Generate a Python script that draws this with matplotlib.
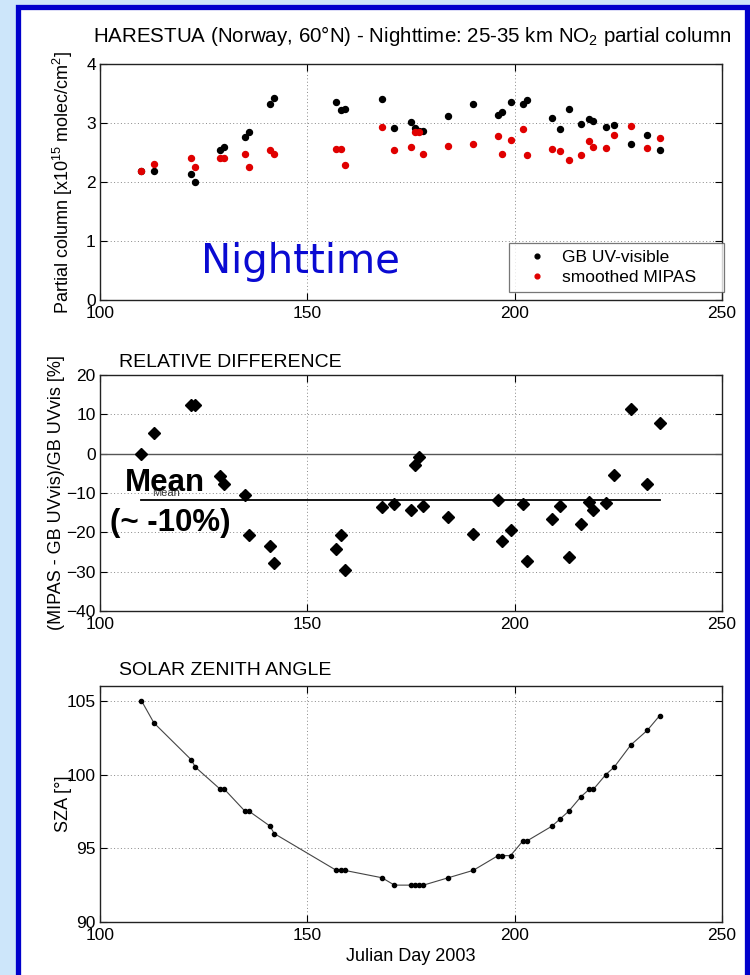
import numpy as np
import matplotlib.pyplot as plt
from matplotlib.patches import Rectangle

plt.rcParams['font.family'] = ['Liberation Sans', 'DejaVu Sans']
plt.rcParams['mathtext.fontset'] = 'custom'
plt.rcParams['mathtext.rm'] = 'Liberation Sans'
plt.rcParams['mathtext.it'] = 'Liberation Sans:italic'

# Julian day of each nighttime measurement (2003)
days = [110, 113, 122, 123, 129, 130, 135, 136, 141, 142, 157, 158, 159,
        168, 171, 175, 176, 177, 178, 184, 190, 196, 197, 199, 202, 203,
        209, 211, 213, 216, 218, 219, 222, 224, 228, 232, 235]

# 25-35 km NO2 partial column [1e15 molec/cm2]
gb_uvvis = [2.18, 2.18, 2.13, 2.00, 2.55, 2.60, 2.77, 2.85, 3.32, 3.42, 3.36, 3.22, 3.23,
            3.41, 2.92, 3.01, 2.92, 2.86, 2.86, 3.12, 3.32, 3.14, 3.18, 3.36, 3.32, 3.39,
            3.08, 2.90, 3.23, 2.98, 3.06, 3.03, 2.94, 2.96, 2.64, 2.79, 2.54]
mipas = [2.18, 2.30, 2.41, 2.25, 2.41, 2.40, 2.47, 2.25, 2.55, 2.47, 2.56, 2.56, 2.29,
         2.94, 2.54, 2.59, 2.84, 2.84, 2.47, 2.61, 2.64, 2.78, 2.47, 2.71, 2.90, 2.46,
         2.56, 2.52, 2.38, 2.45, 2.69, 2.59, 2.57, 2.80, 2.95, 2.58, 2.75]

# (MIPAS - GB UVvis)/GB UVvis [%]
rel_diff = [0.0, 5.3, 12.5, 12.5, -5.6, -7.7, -10.6, -20.8, -23.6, -27.8, -24.2, -20.8, -29.5,
            -13.6, -12.9, -14.2, -2.8, -0.8, -13.4, -16.2, -20.4, -11.7, -22.3, -19.4, -12.8, -27.3,
            -16.6, -13.4, -26.3, -17.9, -12.3, -14.3, -12.6, -5.5, 11.4, -7.6, 7.9]

# solar zenith angle [deg]
sza = [105.0, 103.5, 101.0, 100.5, 99.0, 99.0, 97.5, 97.5, 96.5, 96.0, 93.5, 93.5, 93.5,
       93.0, 92.5, 92.5, 92.5, 92.5, 92.5, 93.0, 93.5, 94.5, 94.5, 94.5, 95.5, 95.5,
       96.5, 97.0, 97.5, 98.5, 99.0, 99.0, 100.0, 100.5, 102.0, 103.0, 104.0]

mean_diff = np.mean(rel_diff)

W, H = 750, 975
fig = plt.figure(figsize=(W / 100, H / 100), dpi=100, facecolor='#cde6fa')

# white sheet with blue frame
fig.patches.append(Rectangle((17.5 / W, -0.05), 729 / W, 1 - 6.5 / H + 0.05,
                             transform=fig.transFigure, facecolor='white',
                             edgecolor='#0000cc', linewidth=3.8, zorder=-1))


def panel(top_px):
    ax = fig.add_axes([100 / W, 1 - (top_px + 236) / H, 622 / W, 236 / H])
    ax.set_xlim(100, 250)
    ax.set_xticks([100, 150, 200, 250])
    ax.grid(True, linestyle=(0, (1, 2.5)), color='#888888', linewidth=0.7)
    ax.tick_params(direction='in', top=True, right=True, length=5,
                   labelsize=12.5, width=0.8)
    ax.tick_params(axis='x', pad=4)
    ax.tick_params(axis='y', pad=3)
    for s in ax.spines.values():
        s.set_linewidth(1.0)
        s.set_color('#222222')
    return ax


# partial columns
ax1 = panel(64)
ax1.plot(days, gb_uvvis, 'o', color='black', markersize=4.3, label='GB UV-visible')
ax1.plot(days, mipas, 'o', color='#e00000', markersize=4.3, label='smoothed MIPAS')
ax1.set_ylim(0, 4)
ax1.set_yticks([0, 1, 2, 3, 4])
ax1.set_ylabel('Partial column [x10$^{15}$ molec/cm$^2$]', fontsize=13)
ax1.yaxis.set_label_coords(-0.04, 0.5)
ax1.text(124.3, 0.45, 'Nighttime', color='#0a0ad2', fontsize=29,
         family='DejaVu Sans', ha='left', va='baseline')
leg = ax1.legend(loc='lower left', bbox_to_anchor=(0.6576, 0.034, 0.3457, 0.2),
                 mode='expand', borderaxespad=0,
                 fontsize=12.5, fancybox=False, edgecolor='#555555',
                 handletextpad=0.25, borderpad=0.4, labelspacing=0.3,
                 handlelength=2.4, markerscale=0.8)
leg.get_frame().set_linewidth(0.9)
fig.text(412 / W, 1 - 36 / H,
         'HARESTUA (Norway, 60°N) - Nighttime: 25-35 km NO$_2$ partial column',
         ha='center', va='center', fontsize=14.8)

# relative difference
ax2 = panel(375)
ax2.axhline(0, color='#555555', linewidth=1.0)
ax2.plot(days, rel_diff, 'D', color='black', markersize=5.8)
ax2.plot([days[0], days[-1]], [mean_diff, mean_diff], '-', color='black', linewidth=1.3)
ax2.text(112.5, mean_diff + 0.4, 'Mean', fontsize=8, color='#333333', va='bottom')
ax2.text(106.0, -9.5, 'Mean', fontsize=22.5, fontweight='bold', va='baseline')
ax2.text(102.5, -19.6, '(~ -10%)', fontsize=22.5, fontweight='bold', va='baseline')
ax2.set_ylim(-40, 20)
ax2.set_yticks([-40, -30, -20, -10, 0, 10, 20])
ax2.set_ylabel('(MIPAS - GB UVvis)/GB UVvis [%]', fontsize=13)
ax2.yaxis.set_label_coords(-0.057, 0.5)
ax2.set_title('RELATIVE DIFFERENCE', loc='left', fontsize=14, x=0.03, pad=6)

# solar zenith angle
ax3 = panel(686)
ax3.plot(days, sza, '-', color='#444444', linewidth=0.8)
ax3.plot(days, sza, 'o', color='black', markersize=3)
ax3.set_ylim(90, 106)
ax3.set_yticks([90, 95, 100, 105])
ax3.set_ylabel('SZA [°]', fontsize=13)
ax3.yaxis.set_label_coords(-0.045, 0.5)
ax3.set_xlabel('Julian Day 2003', fontsize=13, labelpad=4)
ax3.set_title('SOLAR ZENITH ANGLE', loc='left', fontsize=14, x=0.03, pad=8)

fig.savefig('out.png', dpi=100, facecolor=fig.get_facecolor())
